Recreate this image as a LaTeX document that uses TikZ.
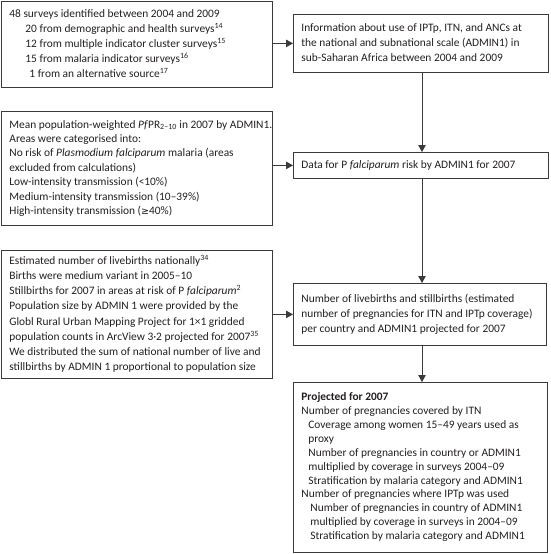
\documentclass[tikz,border=0pt]{standalone}
\usepackage{fontspec}
\setmainfont{Carlito}
\newfontfamily\symfont{DejaVu Sans}
\usetikzlibrary{arrows.meta}
\definecolor{ink}{HTML}{231F20}
\definecolor{edge}{HTML}{3A3A3A}
\newcommand\boxtxt[2]{\makebox[#1][l]{\begin{tabular}{@{}l@{}}#2\end{tabular}}}
\begin{document}
\begin{tikzpicture}[x=1pt,y=-1pt,
  box/.style={draw=edge, line width=0.8pt, anchor=north west,
    inner xsep=8pt, inner ysep=0pt, text=ink,
    font=\fontsize{11.4}{#1}\selectfont},
  box/.default=15.2,
  conn/.style={draw=edge, line width=0.8pt, -{Triangle[length=7pt,width=7.5pt]}}]
\useasboundingbox (0,0) rectangle (550,554);
\node[box=15.2, minimum width=271pt, minimum height=86pt] (b1) at (1,1) {\boxtxt{255pt}{%
48 surveys identified between 2004 and 2009\\
\hspace*{16pt}20 from demographic and health surveys\textsuperscript{14}\\
\hspace*{16pt}12 from multiple indicator cluster surveys\textsuperscript{15}\\
\hspace*{16pt}15 from malaria indicator surveys\textsuperscript{16}\\
\hspace*{20pt}1 from an alternative source\textsuperscript{17}}};
\node[box=15, minimum width=255pt, minimum height=58pt] (b2) at (293,14) {\boxtxt{239pt}{%
Information about use of IPTp, ITN, and ANCs at\\
the national and subnational scale (ADMIN1) in\\
sub-Saharan Africa between 2004 and 2009}};
\node[box=14.4, minimum width=271pt, minimum height=114pt] (b3) at (1,111) {\boxtxt{255pt}{%
Mean population-weighted \textit{Pf}PR\textsubscript{2–10} in 2007 by ADMIN1.\\
Areas were categorised into:\\
No risk of \textit{Plasmodium falciparum} malaria (areas\\
excluded from calculations)\\
Low-intensity transmission (<10\%)\\
Medium-intensity transmission (10–39\%)\\
High-intensity transmission ({\symfont\fontsize{9.5}{10}\selectfont ≥}40\%)}};
\node[box=15, minimum width=255pt, minimum height=26pt] (b4) at (293,152) {\boxtxt{239pt}{%
Data for P \textit{falciparum} risk by ADMIN1 for 2007}};
\node[box=15.2, minimum width=271pt, minimum height=128pt] (b5) at (1,250) {\boxtxt{255pt}{%
Estimated number of livebirths nationally\textsuperscript{34}\\
Births were medium variant in 2005–10\\
Stillbirths for 2007 in areas at risk of P \textit{falciparum}\textsuperscript{2}\\
Population size by ADMIN 1 were provided by the\\
Globl Rural Urban Mapping Project for 1×1 gridded\\
population counts in ArcView 3·2 projected for 2007\textsuperscript{35}\\
We distributed the sum of national number of live and\\
stillbirths by ADMIN 1 proportional to population size}};
\node[box=15, minimum width=253pt, minimum height=62pt] (b6) at (293,283) {\boxtxt{237pt}{%
Number of livebirths and stillbirths (estimated\\
number of pregnancies for ITN and IPTp coverage)\\
per country and ADMIN1 projected for 2007}};
\node[box=13.9, minimum width=254pt, minimum height=170pt] (b7) at (293,382) {\boxtxt{238pt}{%
\textbf{Projected for 2007}\\
Number of pregnancies covered by ITN\\
\hspace*{7pt}Coverage among women 15–49 years used as\\
\hspace*{7pt}proxy\\
\hspace*{7pt}Number of pregnancies in country or ADMIN1\\
\hspace*{7pt}multiplied by coverage in surveys 2004–09\\
\hspace*{7pt}Stratification by malaria category and ADMIN1\\
Number of pregnancies where IPTp was used\\
\hspace*{9pt}Number of pregnancies in country of ADMIN1\\
\hspace*{9pt}multiplied by coverage in surveys in 2004–09\\
\hspace*{9pt}Stratification by malaria category and ADMIN1}};
\coordinate (ax) at (422,0);
\draw[conn] (b1.east |- b2.west) -- (b2.west);
\draw[conn] (b3.east |- b4.west) -- (b4.west);
\draw[conn] (b5.east |- b6.west) -- (b6.west);
\draw[conn] (b2.south -| ax) -- (b4.north -| ax);
\draw[conn] (b4.south -| ax) -- (b6.north -| ax);
\draw[conn] (b6.south -| ax) -- (b7.north -| ax);
\end{tikzpicture}
\end{document}
